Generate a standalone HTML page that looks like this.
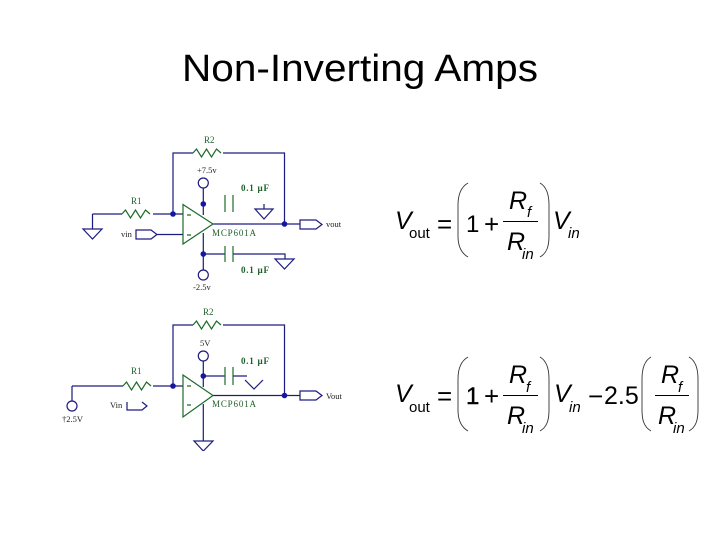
<!DOCTYPE html>
<html><head><meta charset="utf-8"><style>
html,body{margin:0;padding:0;background:#fff;width:720px;height:540px;overflow:hidden}
svg{display:block}
.w{fill:none;stroke:#1a1a80;stroke-width:1.2}
.g{fill:none;stroke:#1f6b2a;stroke-width:1.2}
.s{font-family:"Liberation Serif",serif;font-size:8.5px;fill:#222}
.l{font-family:"Liberation Serif",serif;font-size:9px;fill:#1f5f2a}
.m{font-family:"Liberation Sans",sans-serif;fill:#000}
.i{font-style:italic}
.p{fill:none;stroke:#333;stroke-width:.9}
</style></head><body>
<svg width="720" height="540" viewBox="0 0 720 540" xmlns="http://www.w3.org/2000/svg">
<defs><filter id="b" x="0" y="0" width="100%" height="100%"><feGaussianBlur stdDeviation="0.35"/></filter></defs>
<text x="182" y="81" font-family="Liberation Sans,sans-serif" font-size="38" textLength="356" lengthAdjust="spacingAndGlyphs" fill="#000">Non-Inverting Amps</text>

<g filter="url(#b)">
<!-- circuit 1 -->
<path class="w" d="M173 214V153H193M223 153H284.5V224M92.5 214H122M153 214H183M92.5 214V229M83 229H102L92.5 239ZM157 234.500H183M213 224H300M203.300 188V215M203.300 233V270M203.300 254H225M233 254H285V259M275 259H294L284.500 269ZM264 204V209M255 209H273L264 219ZM300 220H316L322 224.500L316 229H300ZM136 230H151L157 234.500L151 239H136Z"/>
<circle class="w" cx="203.300" cy="183" r="5"/><circle class="w" cx="203.300" cy="275" r="5"/>
<path class="g" d="M193 153l3.500-4 5 8 5-8 5 8 5-8 4.500 4M122 214l3.500-4 5 8 5-8 5 8 5-8 4.500 4M183 204.500L213 224L183 244ZM225 195V212M233 195V212M225 246V262M233 246V262M187 215h4M187 235h4"/>
<g fill="#1414a0"><circle cx="173" cy="214" r="2.800"/><circle cx="203.300" cy="204" r="2.800"/><circle cx="203.300" cy="254" r="2.800"/><circle cx="284.500" cy="224" r="2.800"/></g>
<text class="l" x="204" y="143">R2</text><text class="l" x="131" y="204">R1</text>
<text class="s" x="197" y="173" font-size="7">+7.5v</text>
<text class="l" x="241" y="191" font-weight="bold" textLength="28">0.1 µF</text>
<text class="l" x="241" y="273" font-weight="bold" textLength="28">0.1 µF</text>
<text class="l" x="212" y="236" textLength="44">MCP601A</text>
<text class="s" x="121" y="237">vin</text><text class="s" x="326" y="227">vout</text><text class="s" x="193" y="290">-2.5v</text>

<!-- circuit 2 -->
<path class="w" d="M173 386V325H193M223 325H284.500V395M72 386H123M153 386H183M72 386V401M213 395.500H300M203.300 361V387M203.300 404V441M194 441H213L203.300 451ZM203.300 376H225M233 376H247M245 380L254 389L263 380M300 391H316L322 395.500L316 400H300ZM127 402V410H142L147 406L142 402"/>
<circle class="w" cx="203.300" cy="356" r="5"/><circle class="w" cx="72" cy="406" r="5"/>
<path class="g" d="M193 325l3.500-4 5 8 5-8 5 8 5-8 4.500 4M123 386l3.500-4 5 8 5-8 5 8 5-8 4.500 4M183 375L213 395.500L183 417ZM225 367V385M233 367V385M187 386h4M187 405h4"/>
<g fill="#1414a0"><circle cx="173" cy="386" r="2.800"/><circle cx="203.300" cy="376" r="2.800"/><circle cx="284.500" cy="395.500" r="2.800"/></g>
<text class="l" x="203" y="315">R2</text><text class="l" x="131" y="374">R1</text>
<text class="s" x="200" y="346">5V</text>
<text class="l" x="241" y="364" font-weight="bold" textLength="28">0.1 µF</text>
<text class="l" x="212" y="407" textLength="44">MCP601A</text>
<text class="s" x="110" y="408">Vin</text><text class="s" x="326" y="399">Vout</text><text class="s" x="62" y="422">†2.5V</text>
</g>

<!-- equation 1 -->
<text class="m i" x="395" y="229" font-size="25">V</text>
<text class="m" x="409" y="238" font-size="15">out</text>
<text class="m" x="437" y="233" font-size="26">=</text>
<text class="m" x="466" y="232" font-size="24">1</text>
<text class="m" x="484" y="233" font-size="26">+</text>
<path d="M503 221.500H538" stroke="#000" stroke-width="1"/>
<text class="m i" x="509" y="209" font-size="25">R</text>
<text class="m i" x="527" y="217" font-size="15">f</text>
<text class="m i" x="507" y="250" font-size="25">R</text>
<text class="m i" x="522" y="259" font-size="15">in</text>
<path class="p" d="M468 183C461 187 458 195 458 205V236C458 246 461 253 468 257M540 183C547 187 549 195 549 205V236C549 246 547 253 540 257"/>
<text class="m i" x="553" y="229" font-size="25">V</text>
<text class="m i" x="568" y="238" font-size="15">in</text>

<!-- equation 2 -->
<text class="m i" x="395" y="402" font-size="25">V</text>
<text class="m" x="409" y="412" font-size="15">out</text>
<text class="m" x="437" y="405" font-size="26">=</text>
<text class="m" x="466" y="404" font-size="24" stroke="#000" stroke-width=".4">1</text>
<text class="m" x="484" y="405" font-size="26">+</text>
<path d="M503 395.500H538M655 395.500H689" stroke="#000" stroke-width="1"/>
<text class="m i" x="509" y="383" font-size="25">R</text>
<text class="m i" x="526" y="392" font-size="15">f</text>
<text class="m i" x="507" y="424" font-size="25">R</text>
<text class="m i" x="522" y="433" font-size="15">in</text>
<path class="p" d="M468 357C461 361 458 369 458 379V410C458 420 461 427 468 431M540 357C547 361 549 369 549 379V410C549 420 547 427 540 431"/>
<text class="m i" x="554" y="402" font-size="25">V</text>
<text class="m i" x="569" y="412" font-size="15">in</text>
<text class="m" x="588" y="405" font-size="26">−</text>
<text class="m" x="604" y="404" font-size="25">2.5</text>
<text class="m i" x="661" y="383" font-size="25">R</text>
<text class="m i" x="678" y="392" font-size="15">f</text>
<text class="m i" x="658" y="424" font-size="25">R</text>
<text class="m i" x="673" y="433" font-size="15">in</text>
<path class="p" d="M651 357C644 361 642 369 642 379V410C642 420 644 427 651 431M689 357C696 361 698 369 698 379V410C698 420 696 427 689 431"/>
</svg>
</body></html>
